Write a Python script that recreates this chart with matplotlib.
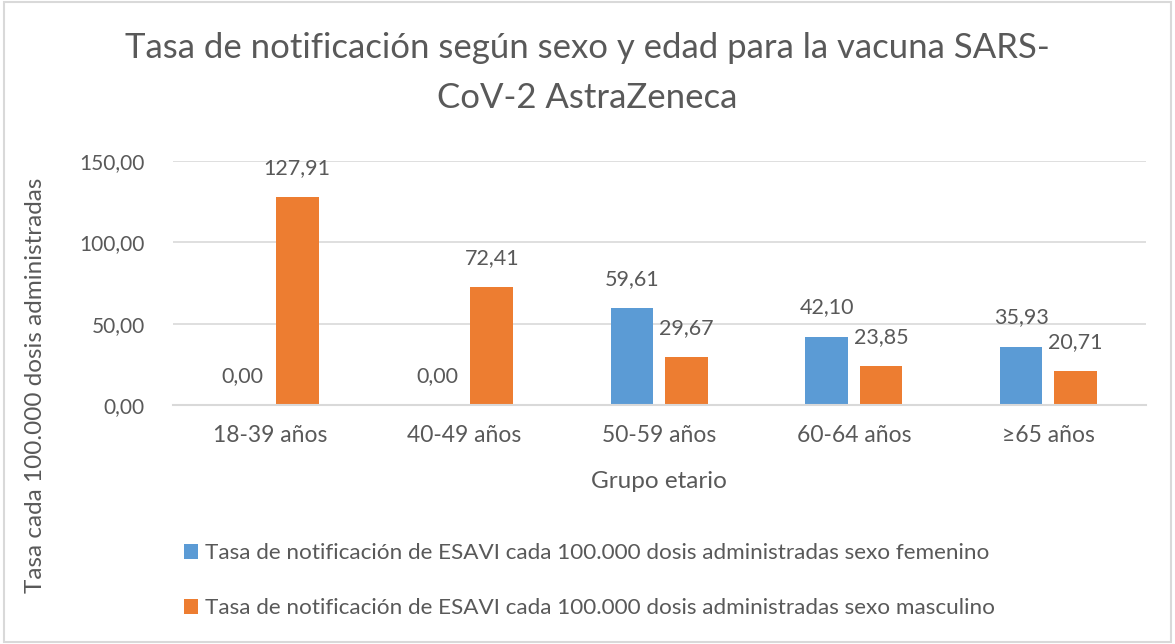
import matplotlib.pyplot as plt
import numpy as np
from matplotlib.patches import Rectangle

plt.rcParams['font.family'] = ['Lato', 'DejaVu Sans']

# data
grupos = ["18-39 años", "40-49 años", "50-59 años", "60-64 años", "≥65 años"]
femenino = [0.00, 0.00, 59.61, 42.10, 35.93]
masculino = [127.91, 72.41, 29.67, 23.85, 20.71]
yticks = [0, 50, 100, 150]

label_f = "Tasa de notificación de ESAVI cada 100.000 dosis administradas sexo femenino"
label_m = "Tasa de notificación de ESAVI cada 100.000 dosis administradas sexo masculino"

txt = "#595959"
blue = "#5B9BD5"
orange = "#ED7D31"

fig = plt.figure(figsize=(11.75, 6.44), dpi=100)
ax = fig.add_axes([0.147, 0.371, 0.828, 0.379])

x = np.arange(len(grupos))
w = 0.22
off = 0.14
bf = ax.bar(x - off, femenino, w, color=blue, label=label_f)
bm = ax.bar(x + off, masculino, w, color=orange, label=label_m)

def fmt(v):
    return f"{v:.2f}".replace(".", ",")

for bars, vals in ((bf, femenino), (bm, masculino)):
    for b, v in zip(bars, vals):
        ax.annotate(fmt(v), (b.get_x() + b.get_width() / 2, v), xytext=(0, 21),
                    textcoords="offset points", ha="center", va="center",
                    fontsize=15.5, color=txt)

ax.set_xlim(-0.5, len(grupos) - 0.5)
ax.set_ylim(0, 150)
ax.set_yticks(yticks)
ax.set_yticklabels([fmt(v) for v in yticks])
ax.set_xticks(x)
ax.set_xticklabels(grupos, fontsize=16.5)
ax.tick_params(axis="both", length=0, labelsize=15, labelcolor=txt)
ax.tick_params(axis="x", pad=14, labelsize=16.5)
ax.tick_params(axis="y", pad=20)
ax.grid(axis="y", color="#d9d9d9", linewidth=1.2)
ax.set_axisbelow(True)
for s in ["top", "right", "left"]:
    ax.spines[s].set_visible(False)
ax.spines["bottom"].set_color("#d9d9d9")
ax.spines["bottom"].set_linewidth(1.5)

ax.set_xlabel("Grupo etario", fontsize=17.5, color=txt, labelpad=18)

fig.text(0.5, 0.925, "Tasa de notificación según sexo y edad para la vacuna SARS-",
         ha="center", va="center", fontsize=25, color=txt)
fig.text(0.5, 0.848, "CoV-2 AstraZeneca", ha="center", va="center", fontsize=25, color=txt)

fig.text(0.03, 0.402, "Tasa cada 100.000 dosis administradas", rotation=90,
         ha="center", va="center", fontsize=17.5, color=txt)

leg = fig.legend(handles=[bf, bm], loc="center left", bbox_to_anchor=(0.157, 0.098),
                 bbox_transform=fig.transFigure, frameon=False, fontsize=16.2,
                 labelcolor=txt, handlelength=0.6, handleheight=0.6, handletextpad=0.3,
                 labelspacing=1.55, borderaxespad=0, borderpad=0)

fig.patches.append(Rectangle((0.003, 0.003), 0.994, 0.994, transform=fig.transFigure,
                             fill=False, edgecolor="#d9d9d9", linewidth=1.5))

fig.savefig("out.png", dpi=100)
